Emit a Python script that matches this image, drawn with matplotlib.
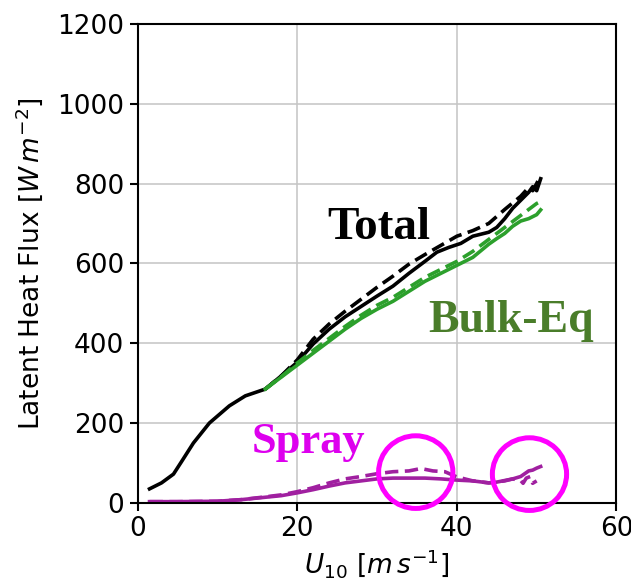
import matplotlib.pyplot as plt
from matplotlib.patches import Ellipse

# latent heat flux vs 10 m wind speed
u_tot = [1.5, 3, 4.5, 5.5, 7, 9, 11.5, 13.5, 16, 18, 20, 22, 24, 26, 28, 30, 32, 34, 36,
         37.5, 39, 40.5, 42, 44, 45, 46, 47, 48, 49, 49.5, 50, 50.5]
tot_solid = [35, 50, 72, 103, 150, 200, 243, 268, 285, 318, 352, 398, 435, 466, 492, 518,
             543, 575, 605, 628, 640, 650, 668, 678, 690, 712, 738, 758, 778, 792, 782, 812]

u_totd = [16, 18, 20, 22, 24, 26, 28, 30, 32, 34, 36, 38, 40, 42, 44, 46, 48, 49, 49.5, 50, 50.5]
tot_dash = [285, 318, 358, 410, 448, 480, 510, 540, 568, 598, 622, 645, 668, 682, 700, 735,
            768, 790, 782, 800, 820]

u_bulk = [16, 18, 20, 22, 24, 26, 28, 30, 32, 34, 36, 38, 40, 42, 44, 45, 46, 47, 48, 49,
          50, 50.5]
bulk_solid = [285, 315, 345, 375, 405, 435, 462, 485, 505, 530, 555, 575, 595, 615, 648,
              662, 675, 693, 706, 712, 722, 734]
bulk_dash = [285, 316, 350, 382, 412, 442, 470, 495, 515, 540, 565, 585, 605, 630, 660,
             675, 690, 705, 720, 735, 750, 755]

u_spr = [1.5, 5, 10, 13, 16, 18, 20, 22, 24, 26, 28, 30, 32, 34, 36, 38, 40, 42, 44, 45,
         46, 47, 48, 49, 49.5, 50, 50.5]
spr_solid = [3, 3, 4, 8, 14, 18, 25, 33, 42, 50, 55, 60, 62, 62, 62, 60, 57, 55, 50, 52,
             56, 60, 66, 80, 82, 87, 91]

u_sprd = [1.5, 5, 10, 13, 16, 18, 20, 22, 24, 26, 28, 30, 32, 34, 35.5, 37, 38.5, 40, 42,
          44, 46, 47, 48, 48.3, 48.7, 49.2, 49.5, 50]
spr_dash = [3, 3, 4, 8, 15, 20, 28, 38, 50, 60, 66, 73, 78, 80, 86, 80, 78, 65, 55, 50,
            55, 60, 56, 49, 62, 66, 49, 55]

fig = plt.figure(figsize=(6.31, 5.82), dpi=100)
ax = fig.add_axes([0.218, 0.136, 0.759, 0.823])

lw = 2.6
dash = (0, (3.7, 1.8))
ax.plot(u_tot, tot_solid, color='black', lw=lw)
ax.plot(u_totd, tot_dash, color='black', lw=lw, linestyle=dash)
ax.plot(u_bulk, bulk_solid, color='#2ca02c', lw=lw)
ax.plot(u_bulk, bulk_dash, color='#2ca02c', lw=lw, linestyle=dash)
ax.plot(u_spr, spr_solid, color='#a020a0', lw=lw)
ax.plot(u_sprd, spr_dash, color='#a020a0', lw=lw, linestyle=dash)

ax.set_xlim(0, 60)
ax.set_ylim(0, 1200)
ax.set_xticks([0, 20, 40, 60])
ax.set_yticks(range(0, 1201, 200))
ax.grid(True, color='#c4c4c4', lw=1.1)
ax.tick_params(labelsize=19, length=6, width=1.5)
for s in ax.spines.values():
    s.set_linewidth(1.5)

ax.set_xlabel(r'$U_{10}\ [m\,s^{-1}]$', fontsize=19)
ax.set_ylabel(r'Latent Heat Flux $[W\,m^{-2}]$', fontsize=19, labelpad=9)

# curve labels
ax.text(23.75, 662, 'Total', fontsize=34, fontweight='bold', family='Liberation Serif',
        color='black', va='baseline')
ax.text(36.4, 428, 'Bulk-Eq', fontsize=33, fontweight='bold', family='Liberation Serif',
        color='#4a7d2a', va='baseline')
ax.text(14.3, 125, 'Spray', fontsize=32, fontweight='bold', family='Liberation Serif',
        color='#dd00ee', va='baseline')

# highlight circles
for cx, cy in [(34.85, 77), (49.1, 72)]:
    ax.add_patch(Ellipse((cx, cy), 9.3, 182, fill=False, edgecolor='#ff00ff', lw=3.6,
                         clip_on=False, zorder=5))

fig.savefig('out.png', dpi=100)
